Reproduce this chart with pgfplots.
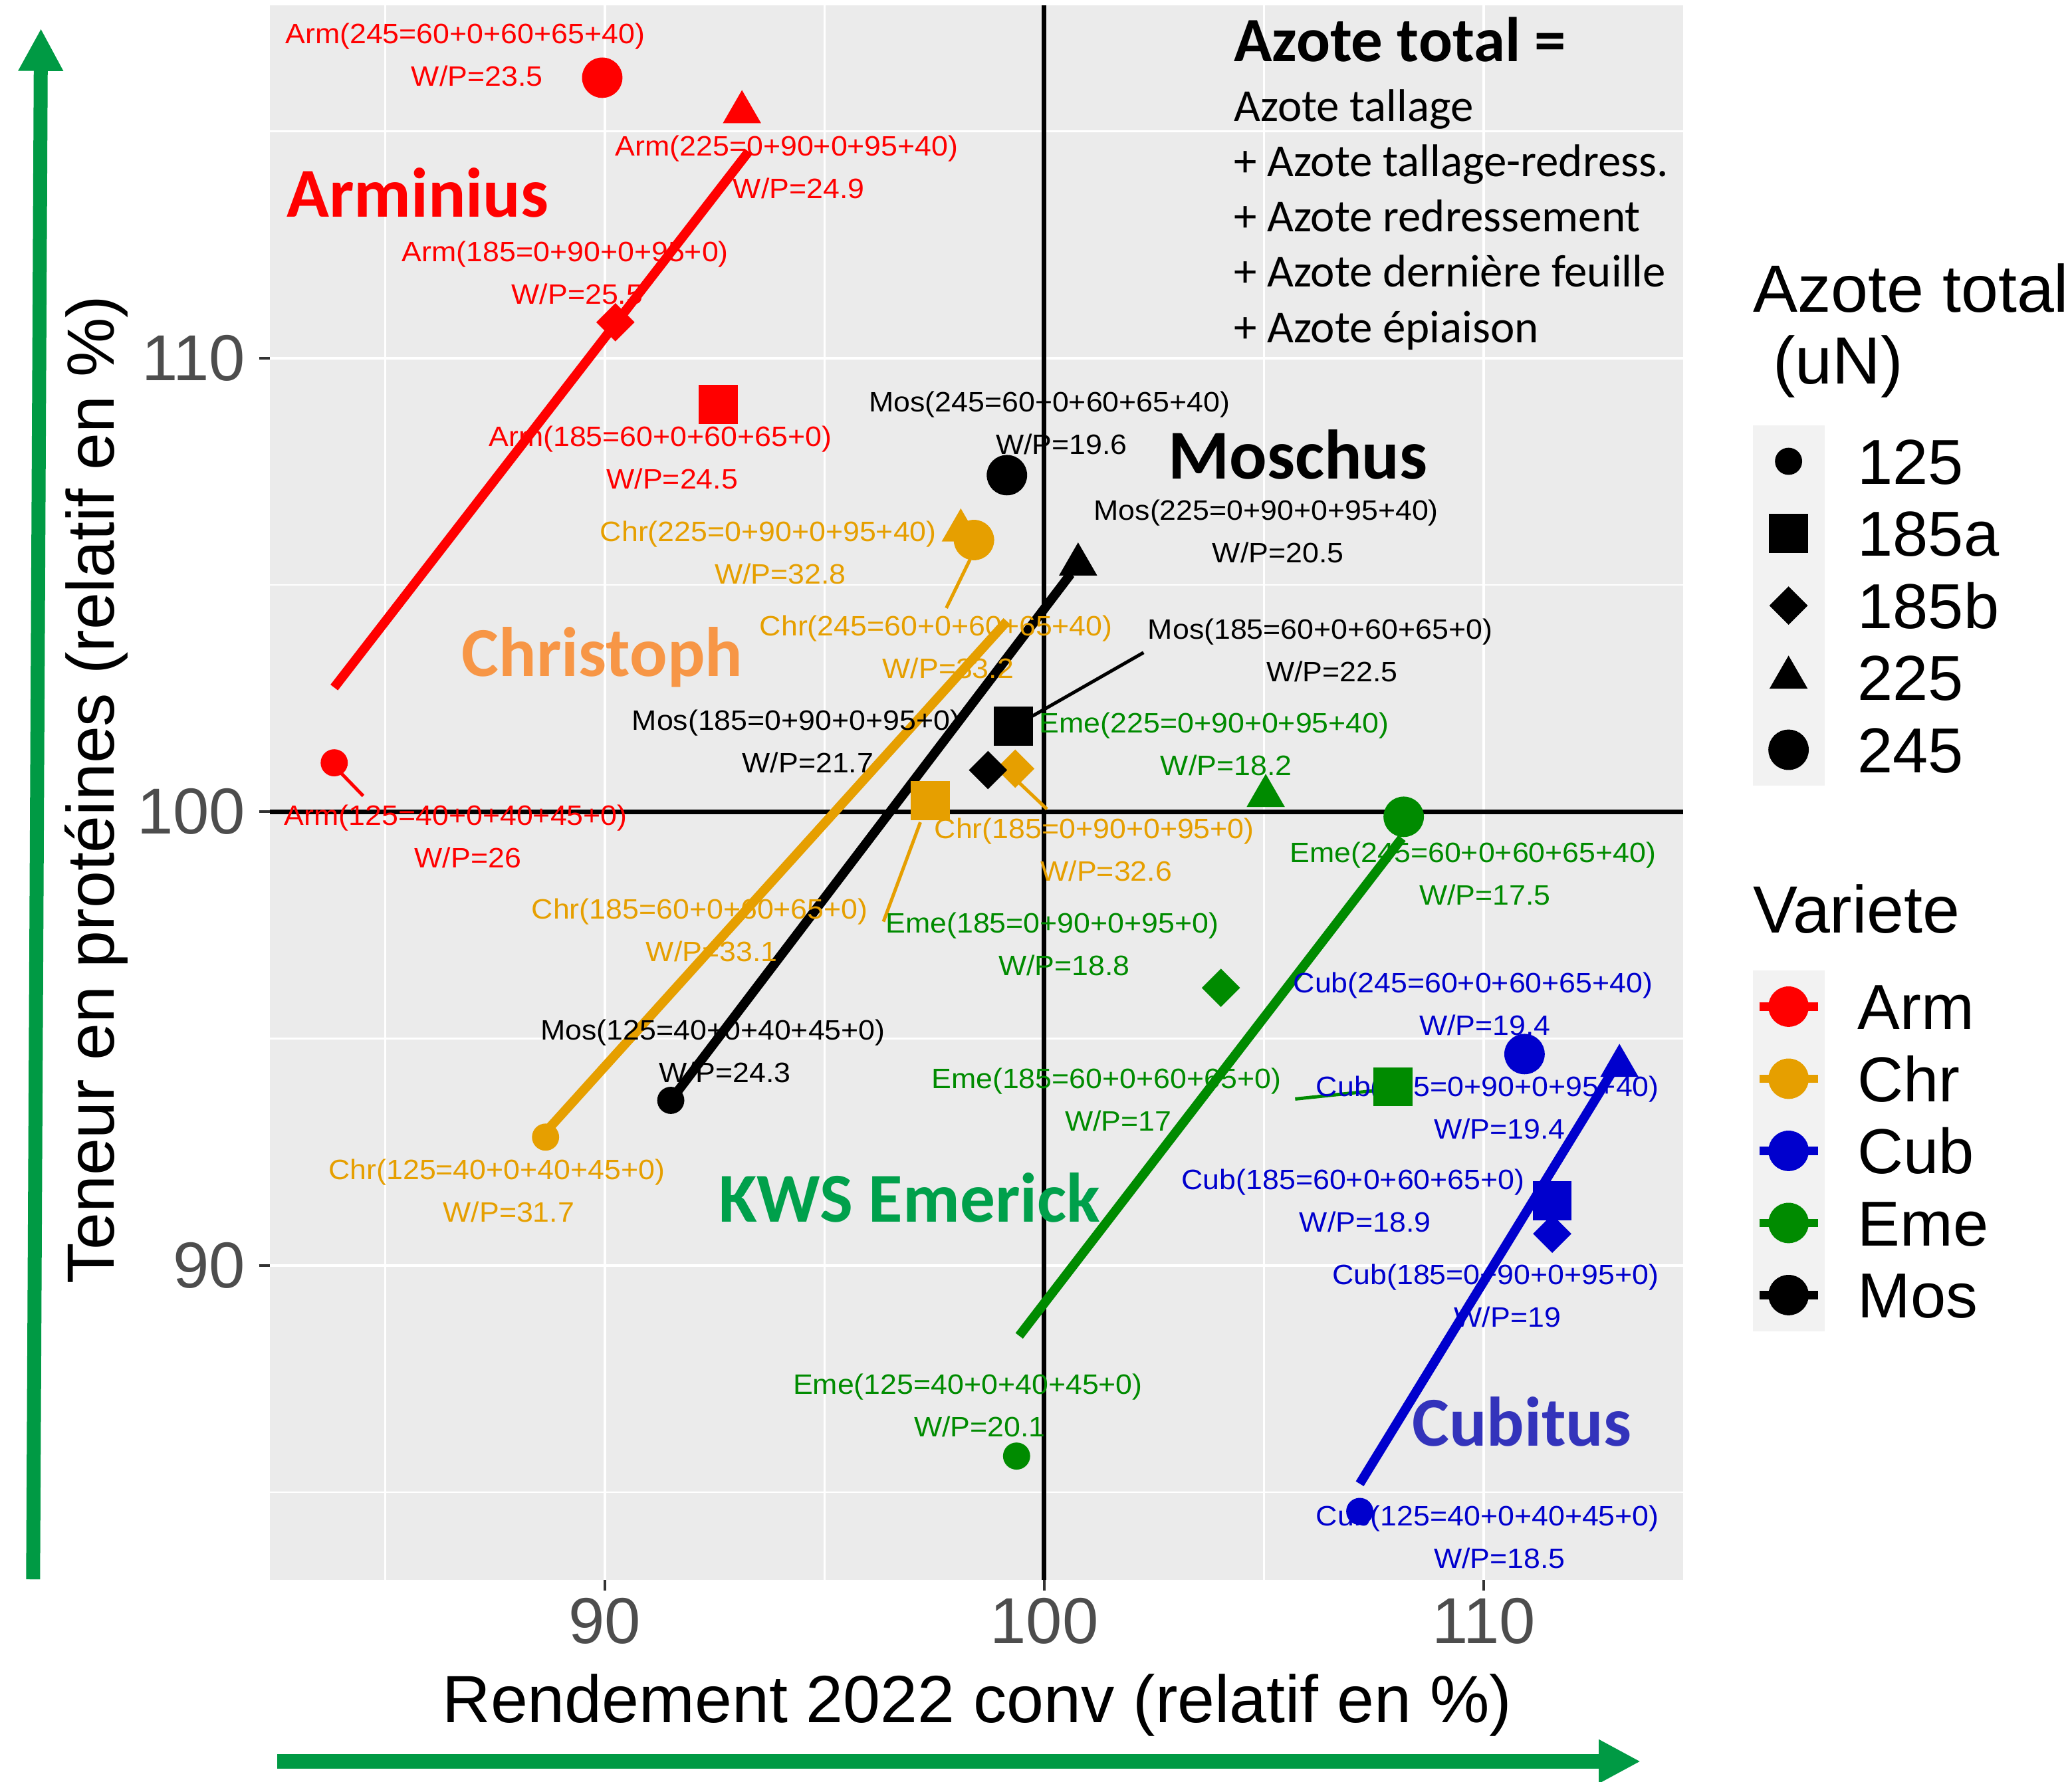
\documentclass[border=0pt]{standalone}
\usepackage{fontspec}
\setmainfont{Liberation Sans}
\newfontfamily\carlito{Carlito}
\newfontfamily\labfam[FakeStretch=1.06]{Liberation Sans}
\usepackage{pgfplots}
\pgfplotsset{compat=1.18}
\usetikzlibrary{arrows.meta}

\definecolor{armc}{HTML}{FF0000}
\definecolor{chrc}{HTML}{E69F00}
\definecolor{cubc}{HTML}{0000CD}
\definecolor{emec}{HTML}{008B00}
\definecolor{mosc}{HTML}{000000}
\definecolor{panelgray}{HTML}{EBEBEB}
\definecolor{keygray}{HTML}{F2F2F2}
\definecolor{tickgray}{HTML}{4D4D4D}
\definecolor{arrowgreen}{HTML}{009A44}
\definecolor{bigorange}{HTML}{F79646}
\definecolor{biggreen}{HTML}{00A04B}
\definecolor{bigblue}{HTML}{3333BB}

\newcommand\labfont{\labfam\fontsize{6}{9.1}\selectfont}
\newcommand\bigfont{\carlito\bfseries\fontsize{15}{18}\selectfont}
% second line of a point label sits a little to the right
\newcommand\wpl[1]{\\\hspace*{1.8mm}W/P=#1}

\pgfplotsset{
  n125/.style={only marks, mark=*, mark size=0.95mm},
  n185a/.style={only marks, mark=square*, mark size=1.4mm},
  n185b/.style={only marks, mark=square*, mark size=0.95mm, mark options={rotate=45}},
  n225/.style={only marks, mark=triangle*, mark size=1.52mm},
  n245/.style={only marks, mark=*, mark size=1.45mm},
  trend/.style={line width=0.7mm, no marks},
  leader/.style={line width=0.25mm, no marks},
  keybox/.style={
    hide axis, scale only axis, width=5mm, height=5mm,
    xmin=0, xmax=1, ymin=0, ymax=1,
    legend cell align=left,
    legend style={at={(0,1)}, anchor=north west, draw=none, fill=none,
      inner sep=0pt, outer sep=0pt, row sep=0pt, column sep=0pt,
      font=\fontsize{13.6}{16}\selectfont,
      nodes={inner sep=0pt, text height=4.42mm, text depth=1.0mm}},
  },
}

\begin{document}
\begin{tikzpicture}
\useasboundingbox (0,0) rectangle (155.85mm,-134.05mm);

\begin{axis}[
  at={(20.28mm,-118.85mm)}, anchor=south west,
  scale only axis, width=106.32mm, height=118.43mm,
  xmin=82.37, xmax=114.54, ymin=83.07, ymax=117.77,
  axis background/.style={fill=panelgray},
  axis line style={draw=none},
  xtick={90,100,110}, ytick={90,100,110},
  minor xtick={85,95,105}, minor ytick={85,95,105,115},
  grid=both,
  major grid style={white, line width=0.22mm},
  minor grid style={white, line width=0.12mm},
  tick align=outside, xtick pos=bottom, ytick pos=left,
  major tick length=0.8mm, minor tick length=0pt,
  tick style={black!80, line width=0.2mm},
  /pgf/number format/assume math mode=true,
  ticklabel style={font=\fontsize{13.9}{16}\selectfont, text=tickgray, inner sep=0pt},
  xticklabel style={anchor=north, yshift=-0.5mm},
  yticklabel style={anchor=east, xshift=-0.95mm},
  xlabel={Rendement 2022 conv (relatif en \%)},
  ylabel={Teneur en protéines (relatif en \%)},
  label style={font=\fontsize{14.3}{17}\selectfont, inner sep=0pt},
  xlabel style={at={(axis description cs:0.5006,-0.0906)}, anchor=base},
  ylabel style={at={(axis description cs:-0.110,0.502)}, anchor=base},
  clip=false,
]
% reference lines
\addplot[black, line width=0.35mm] coordinates {(100,83.07) (100,117.77)};
\addplot[black, line width=0.35mm] coordinates {(82.37,100) (114.54,100)};

% trend lines (125 -> 225)
\addplot[trend, armc] coordinates {(83.84,102.74) (93.27,114.55)};
\addplot[trend, chrc] coordinates {(88.65,92.94) (99.15,104.20)};
\addplot[trend, mosc] coordinates {(91.50,93.64) (100.60,105.24)};
\addplot[trend, emec] coordinates {(99.43,88.45) (108.14,99.42)};
\addplot[trend, cubc] coordinates {(107.18,85.19) (112.97,94.34)};

% label leaders
\addplot[leader, armc] coordinates {(84.00,100.85) (84.50,100.35)};
\addplot[leader, chrc] coordinates {(98.31,105.56) (97.77,104.49)};
\addplot[leader, chrc] coordinates {(97.18,99.77) (96.34,97.58)};
\addplot[leader, chrc] coordinates {(99.43,100.64) (100.06,100.06)};
\addplot[leader, mosc] coordinates {(99.73,102.11) (102.26,103.51)};
\addplot[leader, emec] coordinates {(107.48,93.85) (105.71,93.67)};

% Arm
\addplot[n125, armc] coordinates {(83.84,101.08)};
\addplot[n185a, armc] coordinates {(92.58,108.98)};
\addplot[n185b, armc] coordinates {(90.24,110.79)};
\addplot[n225, armc] coordinates {(93.12,115.42)};
\addplot[n245, armc] coordinates {(89.94,116.18)};
% Chr
\addplot[n125, chrc] coordinates {(88.65,92.83)};
\addplot[n185a, chrc] coordinates {(97.41,100.25)};
\addplot[n185b, chrc] coordinates {(99.34,100.95)};
\addplot[n225, chrc] coordinates {(98.10,106.20)};
\addplot[n245, chrc] coordinates {(98.40,105.99)};
% Mos
\addplot[n125, mosc] coordinates {(91.50,93.64)};
\addplot[n185a, mosc] coordinates {(99.30,101.89)};
\addplot[n185b, mosc] coordinates {(98.72,100.92)};
\addplot[n225, mosc] coordinates {(100.77,105.45)};
\addplot[n245, mosc] coordinates {(99.15,107.42)};
% Eme
\addplot[n125, emec] coordinates {(99.37,85.80)};
\addplot[n185a, emec] coordinates {(107.93,93.94)};
\addplot[n185b, emec] coordinates {(104.02,96.12)};
\addplot[n225, emec] coordinates {(105.04,100.35)};
\addplot[n245, emec] coordinates {(108.18,99.89)};
% Cub
\addplot[n125, cubc] coordinates {(107.18,84.58)};
\addplot[n185a, cubc] coordinates {(111.56,91.43)};
\addplot[n185b, cubc] coordinates {(111.56,90.70)};
\addplot[n225, cubc] coordinates {(113.09,94.40)};
\addplot[n245, cubc] coordinates {(110.93,94.66)};

% point labels
\begin{scope}[every node/.style={font=\labfont, align=center, inner sep=0pt}]
\node[text=armc] at (axis cs:86.82,116.69) {Arm(245=60+0+60+65+40)\wpl{23.5}};
\node[text=armc] at (axis cs:94.14,114.21) {Arm(225=0+90+0+95+40)\wpl{24.9}};
\node[text=armc] at (axis cs:89.10,111.88) {Arm(185=0+90+0+95+0)\wpl{25.5}};
\node[text=armc] at (axis cs:91.26,107.81) {Arm(185=60+0+60+65+0)\wpl{24.5}};
\node[text=armc] at (axis cs:86.61,99.46) {Arm(125=40+0+40+45+0)\wpl{26}};
\node[text=chrc] at (axis cs:93.72,105.71) {Chr(225=0+90+0+95+40)\wpl{32.8}};
\node[text=chrc] at (axis cs:97.54,103.63) {Chr(245=60+0+60+65+40)\wpl{33.2}};
\node[text=chrc] at (axis cs:101.14,99.17) {Chr(185=0+90+0+95+0)\wpl{32.6}};
\node[text=chrc] at (axis cs:92.16,97.39) {Chr(185=60+0+60+65+0)\wpl{33.1}};
\node[text=chrc] at (axis cs:87.54,91.65) {Chr(125=40+0+40+45+0)\wpl{31.7}};
\node[text=mosc] at (axis cs:100.12,108.57) {Mos(245=60+0+60+65+40)\wpl{19.6}};
\node[text=mosc] at (axis cs:105.05,106.18) {Mos(225=0+90+0+95+40)\wpl{20.5}};
\node[text=mosc] at (axis cs:106.28,103.56) {Mos(185=60+0+60+65+0)\wpl{22.5}};
\node[text=mosc] at (axis cs:94.35,101.55) {Mos(185=0+90+0+95+0)\wpl{21.7}};
\node[text=mosc] at (axis cs:92.46,94.72) {Mos(125=40+0+40+45+0)\wpl{24.3}};
\node[text=emec] at (axis cs:103.87,101.49) {Eme(225=0+90+0+95+40)\wpl{18.2}};
\node[text=emec] at (axis cs:109.76,98.63) {Eme(245=60+0+60+65+40)\wpl{17.5}};
\node[text=emec] at (axis cs:100.18,97.08) {Eme(185=0+90+0+95+0)\wpl{18.8}};
\node[text=emec] at (axis cs:101.41,93.66) {Eme(185=60+0+60+65+0)\wpl{17}};
\node[text=emec] at (axis cs:98.26,86.91) {Eme(125=40+0+40+45+0)\wpl{20.1}};
\node[text=cubc] at (axis cs:109.76,95.77) {Cub(245=60+0+60+65+40)\wpl{19.4}};
\node[text=cubc] at (axis cs:110.09,93.48) {Cub(225=0+90+0+95+40)\wpl{19.4}};
\node[text=cubc] at (axis cs:107.03,91.43) {Cub(185=60+0+60+65+0)\wpl{18.9}};
\node[text=cubc] at (axis cs:110.27,89.33) {Cub(185=0+90+0+95+0)\wpl{19}};
\node[text=cubc] at (axis cs:110.09,84.02) {Cub(125=40+0+40+45+0)\wpl{18.5}};
\end{scope}

% variety names
\node[font=\bigfont, text=armc] at (axis cs:85.74,113.64) {Arminius};
\node[font=\bigfont, text=bigorange] at (axis cs:89.94,103.41) {Christoph};
\node[font=\bigfont, text=mosc] at (axis cs:105.77,107.87) {Moschus};
\node[font=\bigfont, text=biggreen] at (axis cs:96.94,91.49) {KWS Emerick};
\node[font=\bigfont, text=bigblue] at (axis cs:110.87,86.56) {Cubitus};
\end{axis}

% legend: Azote total
\begin{axis}[keybox, at={(131.83mm,-31.99mm)}, anchor=north west,
  legend image code/.code={
    \path[fill=keygray, draw=none] (0mm,-2.7125mm) rectangle (5.4mm,2.7125mm);
    \path[draw=none, fill=none] (0mm,0mm) -- (7.9mm,0mm);
    \draw[#1] plot coordinates {(2.7mm,0mm)};
  }]
\addlegendimage{only marks, mark=*, mark size=0.95mm, black}
\addlegendentry{125}
\addlegendimage{only marks, mark=square*, mark size=1.4mm, black}
\addlegendentry{185a}
\addlegendimage{only marks, mark=square*, mark size=0.95mm, black, mark options={rotate=45}}
\addlegendentry{185b}
\addlegendimage{only marks, mark=triangle*, mark size=1.52mm, black}
\addlegendentry{225}
\addlegendimage{only marks, mark=*, mark size=1.45mm, black}
\addlegendentry{245}
\end{axis}

% legend: Variete
\begin{axis}[keybox, at={(131.83mm,-73.01mm)}, anchor=north west,
  legend image code/.code={
    \path[fill=keygray, draw=none] (0mm,-2.7125mm) rectangle (5.4mm,2.7125mm);
    \path[draw=none, fill=none] (0mm,0mm) -- (7.9mm,0mm);
    \draw[#1, line width=0.62mm] (0.5mm,0mm) -- (4.9mm,0mm);
    \draw[#1] plot coordinates {(2.7mm,0mm)};
  }]
\addlegendimage{only marks, mark=*, mark size=1.45mm, armc}
\addlegendentry{Arm}
\addlegendimage{only marks, mark=*, mark size=1.45mm, chrc}
\addlegendentry{Chr}
\addlegendimage{only marks, mark=*, mark size=1.45mm, cubc}
\addlegendentry{Cub}
\addlegendimage{only marks, mark=*, mark size=1.45mm, emec}
\addlegendentry{Eme}
\addlegendimage{only marks, mark=*, mark size=1.45mm, mosc}
\addlegendentry{Mos}
\end{axis}

\begin{scope}[x=0.1mm, y=-0.1mm]
% legend titles
\node[anchor=base west, inner sep=0pt, font=\fontsize{14.3}{17}\selectfont] at (1318,234.8) {Azote total};
\node[anchor=base west, inner sep=0pt, font=\fontsize{14.3}{17}\selectfont] at (1333,289) {(uN)};
\node[anchor=base west, inner sep=0pt, font=\fontsize{14.3}{17}\selectfont] at (1318,701.5) {Variete};
% formula box
\node[anchor=base west, inner sep=0pt, font=\carlito\bfseries\fontsize{13.5}{16}\selectfont] at (927.5,46.5) {Azote total =};
\begin{scope}[every node/.style={anchor=base west, inner sep=0pt, font=\carlito\fontsize{9.8}{12}\selectfont}]
\node at (927.5,91.2) {Azote tallage};
\node at (927.5,132.8) {+ Azote tallage-redress.};
\node at (927.5,174.4) {+ Azote redressement};
\node at (927.5,216.0) {+ Azote dernière feuille};
\node at (927.5,257.6) {+ Azote épiaison};
\end{scope}
% green arrows
\draw[arrowgreen, line width=1.05mm, -{Triangle[width=3.16mm, length=3.2mm]}] (24.9,1188) -- (30.8,21.4);
\draw[arrowgreen, line width=1.08mm, -{Triangle[width=3.08mm, length=3.15mm]}] (208.7,1325) -- (1234,1325);
\end{scope}
\end{tikzpicture}
\end{document}
